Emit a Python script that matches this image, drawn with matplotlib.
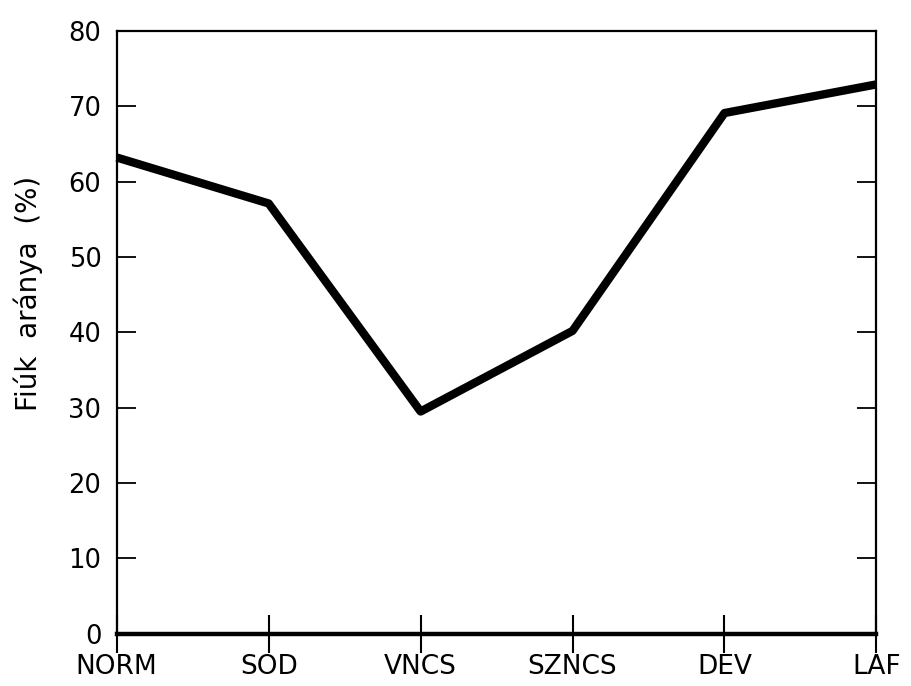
import matplotlib.pyplot as plt

# data
categories = ["NORM", "SOD", "VNCS", "SZNCS", "DEV", "LAF"]
boys_pct = [63.2, 57.1, 29.5, 40.2, 69.1, 72.9]
y_ticks = [0, 10, 20, 30, 40, 50, 60, 70, 80]

plt.rcParams["font.family"] = ["DejaVu Sans"]

fig = plt.figure(figsize=(9.12, 6.86), dpi=100)
ax = fig.add_axes([0.128, 0.076, 0.833, 0.879])

x = list(range(len(categories)))
ax.plot(x, boys_pct, color="black", lw=6, solid_joinstyle="round",
        solid_capstyle="butt", clip_on=False, zorder=3)

ax.set_xlim(0, len(categories) - 1)
ax.set_ylim(0, 80)

ax.set_yticks(y_ticks)
ax.set_yticklabels([str(v) for v in y_ticks])
ax.set_xticks(x)
ax.set_xticklabels(categories)

ax.tick_params(axis="y", direction="in", length=14, width=1.3, pad=11,
               labelsize=18.5, right=True, labelright=False)
ax.tick_params(axis="x", direction="inout", length=27, width=1.5, pad=1,
               labelsize=19)

for side in ["left", "right", "top"]:
    ax.spines[side].set_linewidth(1.6)
ax.spines["bottom"].set_linewidth(3.2)

ax.set_ylabel("Fiúk  aránya  (%)", fontsize=20)
ax.yaxis.set_label_coords(-0.097, 0.565)

fig.savefig("out.png", dpi=100)
